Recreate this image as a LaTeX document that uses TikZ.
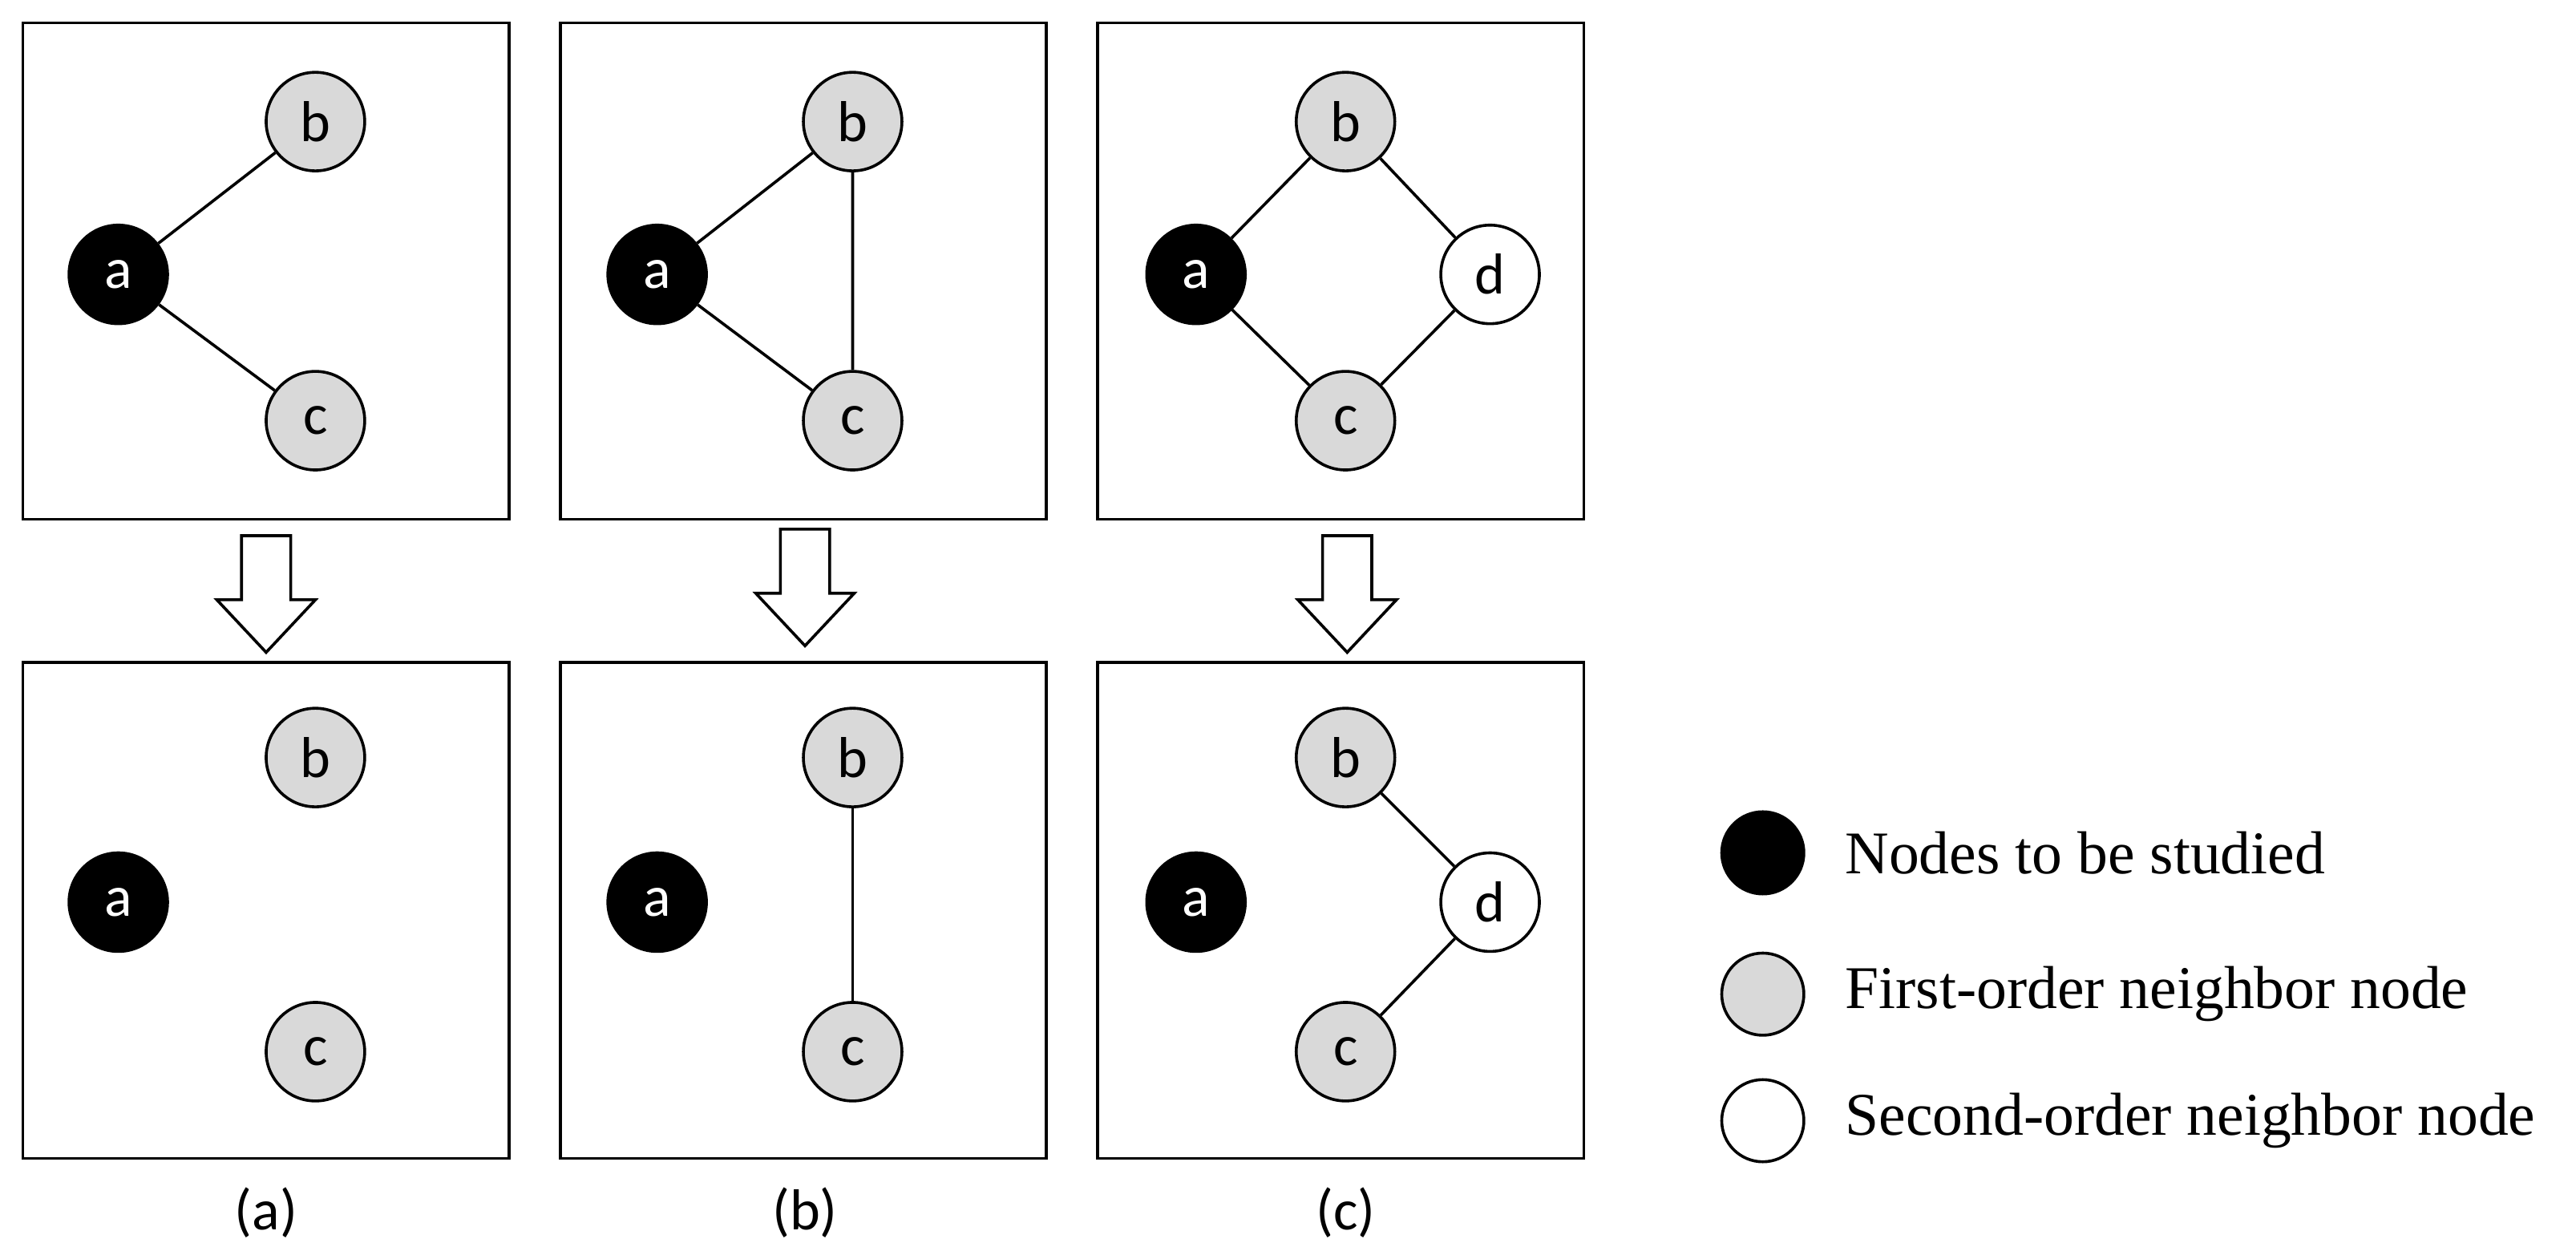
\documentclass[tikz,border=0pt]{standalone}
\usepackage{fontspec}
\setmainfont{Liberation Serif}
\newfontfamily\nodefont{Carlito}
\begin{document}
\begin{tikzpicture}[x=0.02cm,y=-0.02cm,
  nd/.style={circle,draw,line width=1pt,minimum size=1.2cm,inner sep=0pt,font=\nodefont\fontsize{20}{24}\selectfont},
  st/.style={nd,fill=black,text=white},
  fo/.style={nd,fill=black!15},
  so/.style={nd,fill=white},
  box/.style={draw,line width=1pt},
  edge/.style={line width=1pt},
  arr/.style={draw,line width=1pt,fill=white},
  lg/.style={circle,draw,line width=1pt,minimum width=0.95cm,minimum height=1.0cm,inner sep=0pt},
  lt/.style={anchor=west,font=\fontsize{21}{25}\selectfont},
  captxt/.style={font=\nodefont\fontsize{20}{24}\selectfont}]
\useasboundingbox (0,0) rectangle (1568,756);
% boxes
\foreach \x in {14,341,668}{
  \draw[box] (\x,14) rectangle ++(296,302);
  \draw[box] (\x,403) rectangle ++(296,302);
}
% arrows
\foreach \cx/\ty in {162/326,490/322,820/326}{
  \draw[arr] (\cx-15,\ty) -- (\cx+15,\ty) -- (\cx+15,\ty+39) -- (\cx+30,\ty+39) -- (\cx,\ty+71) -- (\cx-30,\ty+39) -- (\cx-15,\ty+39) -- cycle;
}
% top (a)
\node[st] (a1) at (72,167) {a};
\node[fo] (b1) at (192,74) {b};
\node[fo] (c1) at (192,256) {c};
\draw[edge] (a1) -- (b1) (a1) -- (c1);
% top (b)
\node[st] (a2) at (400,167) {a};
\node[fo] (b2) at (519,74) {b};
\node[fo] (c2) at (519,256) {c};
\draw[edge] (a2) -- (b2) (a2) -- (c2) (b2) -- (c2);
% top (c)
\node[st] (a3) at (728,167) {a};
\node[fo] (b3) at (819,74) {b};
\node[fo] (c3) at (819,256) {c};
\node[so] (d3) at (907,167) {d};
\draw[edge] (a3) -- (b3) (a3) -- (c3) (b3) -- (d3) (c3) -- (d3);
% bottom (a)
\node[st] (a4) at (72,549) {a};
\node[fo] (b4) at (192,461) {b};
\node[fo] (c4) at (192,640) {c};
% bottom (b)
\node[st] (a5) at (400,549) {a};
\node[fo] (b5) at (519,461) {b};
\node[fo] (c5) at (519,640) {c};
\draw[edge] (b5) -- (c5);
% bottom (c)
\node[st] (a6) at (728,549) {a};
\node[fo] (b6) at (819,461) {b};
\node[fo] (c6) at (819,640) {c};
\node[so] (d6) at (907,549) {d};
\draw[edge] (b6) -- (d6) (c6) -- (d6);
% captions
\node[captxt] (la) at (162,738) {(a)};
\node[captxt] (lb) at (490,738) {(b)};
\node[captxt] (lc) at (819,738) {(c)};
% legend
\node[lg,fill=black] (g1) at (1073,519) {};
\node[lg,fill=black!15] (g2) at (1073,605) {};
\node[lg,fill=white] (g3) at (1073,682) {};
\node[lt] (t1) at (1117,519) {Nodes to be studied};
\node[lt] (t2) at (1117,605) {First-order neighbor node};
\node[lt] (t3) at (1117,682) {Second-order neighbor node};
\end{tikzpicture}
\end{document}
